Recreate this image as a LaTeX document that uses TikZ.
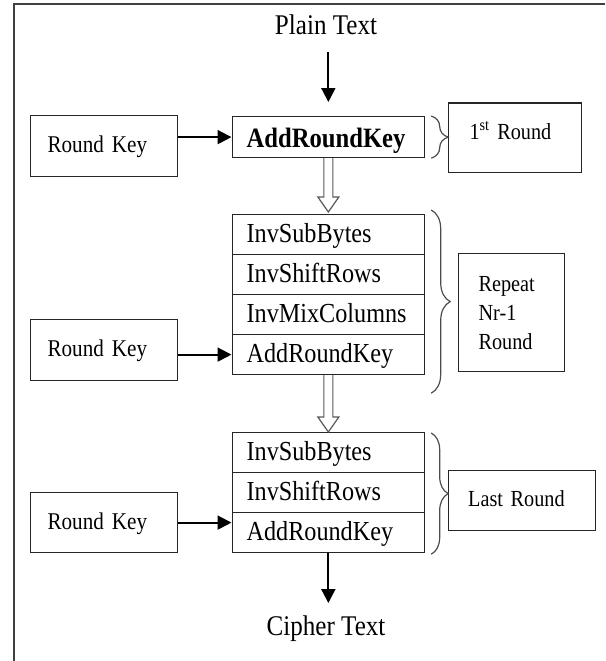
\documentclass[tikz,border=0pt]{standalone}
\usepackage{fontspec}
\setmainfont{Liberation Serif}[FakeStretch=0.88]
\usetikzlibrary{arrows.meta,calc,decorations.pathreplacing}

\begin{document}
\begin{tikzpicture}[x=1pt,y=-1pt,
  frame/.style={draw=black!75,line width=1.8pt},
  box/.style={draw=black!85,line width=1.2pt,inner ysep=0pt,align=left,anchor=north west},
  rowbox/.style={box,minimum width=192.5pt,minimum height=40pt,inner xsep=14.5pt,
    text width=163.5pt,text height=19pt,text depth=4pt,font=\fontsize{27.5}{30}\selectfont},
  keybox/.style={box,minimum width=147pt,minimum height=61pt,inner xsep=17pt,
    text width=113pt,text height=17pt,text depth=4pt,font=\fontsize{24}{28}\selectfont},
  sidebox/.style={box,font=\fontsize{23}{29}\selectfont},
  endtext/.style={anchor=base,inner sep=0pt,font=\fontsize{28.5}{32}\selectfont},
  arr/.style={line width=2pt,-{Triangle[length=14pt,width=14pt]}},
  hollow/.style={draw=black!65,line width=1.2pt,fill=white},
  rbrace/.style={draw=black!70,line width=1.2pt,decorate,decoration={brace,amplitude=#1}}
]
\useasboundingbox (0,0) rectangle (605,661);

% page frame (top and left edges)
\draw[frame] (605,4) -- (14,4) -- (14,661);

% input and output
\node[endtext] (plain)  at (326,35)  {Plain Text};
\node[endtext] (cipher) at (326,635) {Cipher Text};

% initial round
\node[rowbox,font=\bfseries\fontsize{28}{30}\selectfont,minimum height=41pt,
      text height=23pt,text depth=2pt] (ark1) at (231.5,116) {AddRoundKey};

% main rounds
\node[rowbox] (sa) at (231.5,214) {InvSubBytes};
\node[rowbox] (sb) at (231.5,254) {InvShiftRows};
\node[rowbox] (sc) at (231.5,294) {InvMixColumns};
\node[rowbox] (sd) at (231.5,334) {AddRoundKey};

% final round
\node[rowbox] (la) at (231.5,432) {InvSubBytes};
\node[rowbox] (lb) at (231.5,472) {InvShiftRows};
\node[rowbox] (lc) at (231.5,512) {AddRoundKey};

% round keys
\node[keybox] (k1) at (30,115) {Round Key};
\node[keybox] (k2) at (30,319) {Round Key};
\node[keybox,minimum height=60pt] (k3) at (30,492) {Round Key};

% round labels
\node[sidebox,minimum width=133pt,text width=91pt,inner xsep=21pt,minimum height=69pt,
      text height=16pt,text depth=13pt] (first) at (448,103) {1\textsuperscript{st} Round};
\draw[black!85,line width=2.4pt] (first.north west) -- (first.north east);
\node[sidebox,minimum width=106pt,text width=66pt,inner xsep=20pt,minimum height=118pt]
      (rep) at (458,253) {Repeat\\Nr-1\\Round};
\node[sidebox,minimum width=147pt,text width=107.8pt,inner xsep=19.6pt,minimum height=60pt,
      text height=16pt,text depth=4pt] (last) at (448,470) {Last Round};

% braces
\draw[rbrace=17pt] ([xshift=6pt]ark1.north east) -- ([xshift=6pt]ark1.south east);
\draw[rbrace=19pt] ([xshift=6pt,yshift=4pt]sa.north east) -- ([xshift=6pt,yshift=-18pt]sd.south east);
\draw[rbrace=17pt] ([xshift=6pt,yshift=-1pt]la.north east) -- ([xshift=6pt,yshift=-1pt]lc.south east);

% hollow arrows between rounds
\draw[hollow] let \p1=(ark1.south), \p2=(sa.north) in
  (\x1-4.5pt,\y1) -- (\x1-4.5pt,\y2+17pt) -- (\x1-10.5pt,\y2+17pt) -- (\x1,\y2+2pt)
  -- (\x1+10.5pt,\y2+17pt) -- (\x1+4.5pt,\y2+17pt) -- (\x1+4.5pt,\y1);
\draw[hollow] let \p1=(sd.south), \p2=(la.north) in
  (\x1-4.5pt,\y1) -- (\x1-4.5pt,\y2+15pt) -- (\x1-10.5pt,\y2+15pt) -- (\x1,\y2)
  -- (\x1+10.5pt,\y2+15pt) -- (\x1+4.5pt,\y2+15pt) -- (\x1+4.5pt,\y1);

% data flow
\draw[arr,shorten <=17pt,shorten >=14pt] (plain.south -| ark1.north) -- (ark1.north);
\draw[arr] (k1.east |- ark1.west) -- (ark1.west);
\draw[arr] (k2.east |- sd.west) -- (sd.west);
\draw[arr] (k3.east) -- (k3.east -| lc.west);
\draw[arr,shorten >=12pt] (lc.south) -- (lc.south |- cipher.north);
\end{tikzpicture}
\end{document}
